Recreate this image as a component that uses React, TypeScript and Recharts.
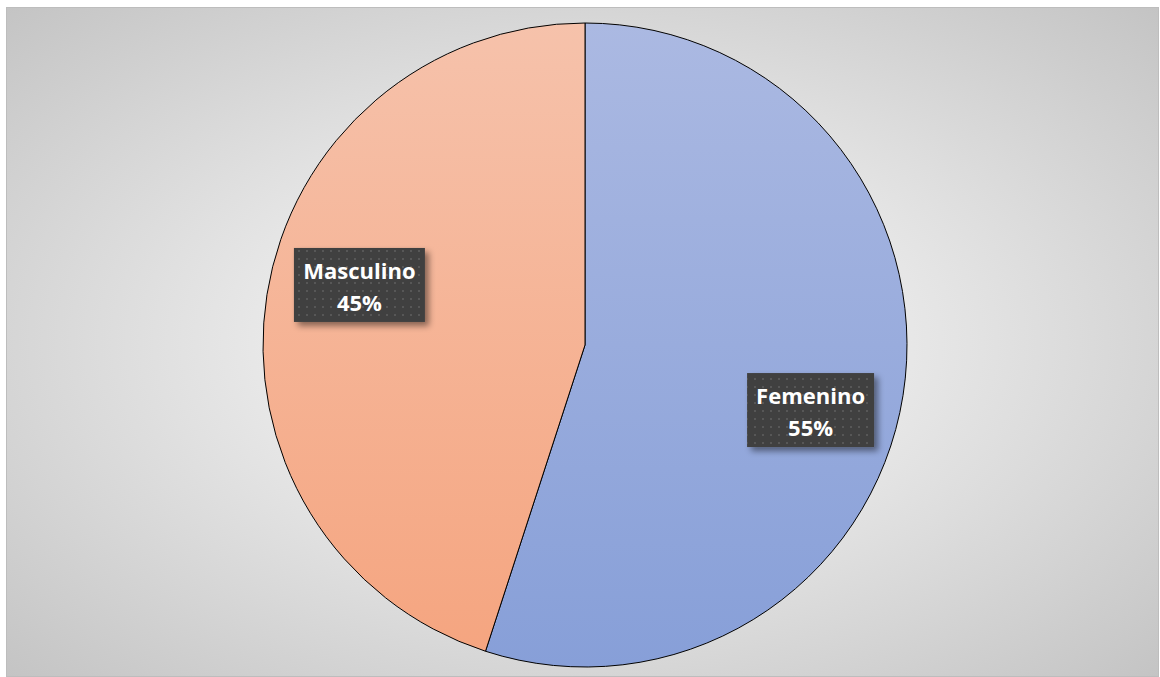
import { PieChart, Pie, Cell } from 'recharts';

const CATEGORIES = ['Femenino', 'Masculino'];
const VALUES = [55, 45];
const PERCENT_LABELS = ['55%', '45%'];

const GRADIENTS = [
  { id: 'gradFem', top: '#abb9e2', bottom: '#879fd8' },
  { id: 'gradMasc', top: '#f6c2ab', bottom: '#f5a580' },
];

const data = CATEGORIES.map((name, i) => ({
  name,
  value: VALUES[i],
  pct: PERCENT_LABELS[i],
}));

const RADIAN = Math.PI / 180;

// Dark callout box with white bold text, like the Excel data label
const renderLabel = (props: any) => {
  const { cx, cy, midAngle, outerRadius, index } = props;
  const angle = midAngle - 6.5;
  const r = outerRadius * 0.727;
  const x = cx + r * Math.cos(-angle * RADIAN);
  const y = cy + r * Math.sin(-angle * RADIAN) + 2.5;
  const w = index === 1 ? 131 : 127;
  const h = 74;
  return (
    <g>
      <rect
        x={x - w / 2}
        y={y - h / 2}
        width={w}
        height={h}
        fill="#404040"
        filter="url(#boxShadow)"
      />
      <rect x={x - w / 2} y={y - h / 2} width={w} height={h} fill="url(#dots)" />
      <text
        x={x}
        y={y - 6}
        textAnchor="middle"
        fill="#ffffff"
        fontFamily="'Open Sans', sans-serif"
        fontWeight={700}
        fontSize={22}
      >
        {data[index].name}
      </text>
      <text
        x={x}
        y={y + 26}
        textAnchor="middle"
        fill="#ffffff"
        fontFamily="'Open Sans', sans-serif"
        fontWeight={700}
        fontSize={22}
      >
        {data[index].pct}
      </text>
    </g>
  );
};

export default function App() {
  return (
    <div
      style={{
        position: 'absolute',
        left: 0,
        top: 0,
        width: 1160,
        height: 677,
        background: '#ffffff',
      }}
    >
      <div
        style={{
          position: 'absolute',
          left: 6,
          top: 7,
          width: 1151,
          height: 668,
          border: '1px solid #bdbdbd',
          background: 'radial-gradient(ellipse at center, #ffffff 0%, #c4c4c4 100%)',
        }}
      />
      <div style={{ position: 'absolute', left: 0, top: 0 }}>
        <PieChart width={1160} height={677} margin={{ top: 0, right: 0, bottom: 0, left: 0 }}>
          <defs>
            {GRADIENTS.map((g) => (
              <linearGradient key={g.id} id={g.id} x1="0" y1="0" x2="0" y2="1">
                <stop offset="0%" stopColor={g.top} />
                <stop offset="100%" stopColor={g.bottom} />
              </linearGradient>
            ))}
            <pattern id="dots" width="8" height="8" patternUnits="userSpaceOnUse">
              <rect x="2" y="2" width="2" height="2" fill="#575757" />
            </pattern>
            <filter id="boxShadow" x="-20%" y="-20%" width="150%" height="150%">
              <feDropShadow dx="4" dy="4" stdDeviation="3" floodColor="#000" floodOpacity="0.45" />
            </filter>
          </defs>
          <Pie
            data={data}
            dataKey="value"
            nameKey="name"
            cx={585}
            cy={345}
            outerRadius={322}
            startAngle={90}
            endAngle={-270}
            stroke="#000000"
            strokeWidth={1}
            labelLine={false}
            label={renderLabel}
            isAnimationActive={false}
          >
            {data.map((_, i) => (
              <Cell key={`cell-${i}`} fill={`url(#${GRADIENTS[i].id})`} />
            ))}
          </Pie>
        </PieChart>
      </div>
    </div>
  );
}
